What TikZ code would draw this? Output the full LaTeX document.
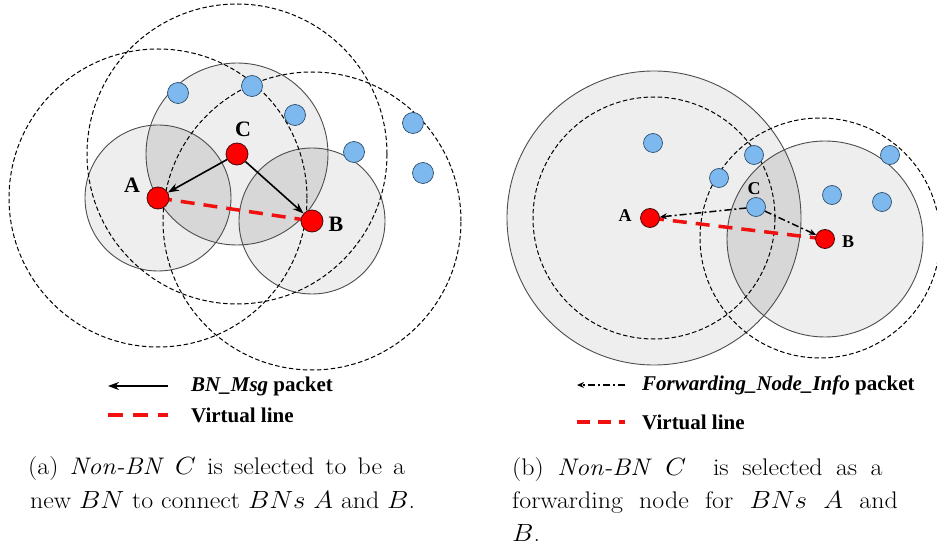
\documentclass[tikz,border=0pt]{standalone}
\usepackage{fontspec}
\usepackage{graphicx}
\newfontfamily\tnr{Liberation Serif}
\usetikzlibrary{arrows.meta}
\definecolor{nodered}{HTML}{FF0000}
\definecolor{rededge}{HTML}{4A0A0A}
\definecolor{nodeblue}{HTML}{7DB9EF}
\definecolor{blueedge}{HTML}{2F4F6F}
\definecolor{ringgray}{HTML}{4D4D4D}
\definecolor{virtred}{HTML}{F01010}
\definecolor{disklight}{HTML}{EEEEEE}
\definecolor{diskdark}{HTML}{D7D7D7}
\pgfdeclarelayer{bg}
\pgfsetlayers{bg,main}
\newcommand{\capw}[2]{\scalebox{1.08}[1]{\hbox to #1pt{#2}}}
\begin{document}
\begin{tikzpicture}[x=1pt,y=-1pt,
  bn/.style={circle, fill=nodered, draw=rededge, line width=0.8pt, minimum size=22pt, inner sep=0pt},
  bnsmall/.style={bn, minimum size=19pt},
  nbn/.style={circle, fill=nodeblue, draw=blueedge, line width=0.7pt, minimum size=21pt, inner sep=0pt},
  nbnsmall/.style={nbn, minimum size=19pt},
  diskfill/.style={fill=disklight},
  overlapfill/.style={fill=diskdark},
  diskedge/.style={draw=ringgray, line width=0.9pt},
  reachring/.style={draw=black, dash pattern=on 4.5pt off 2.5pt, line width=1pt},
  virt/.style={draw=virtred, line width=3.5pt, dash pattern=on 14pt off 9pt},
  msg/.style={draw=black, line width=1.6pt, -{Stealth[length=11pt,width=8pt]}},
  fwd/.style={draw=black, line width=1.5pt, dash pattern=on 7pt off 3pt on 2pt off 3pt, -{Stealth[length=7pt,width=6pt]}},
  biglbl/.style={font=\tnr\bfseries\fontsize{22}{24}\selectfont, inner sep=0pt},
  smalllbl/.style={font=\tnr\bfseries\fontsize{18}{20}\selectfont, inner sep=0pt},
  legend/.style={font=\tnr\bfseries\fontsize{21}{24}\selectfont, inner sep=0pt, anchor=west},
  capt/.style={font=\fontsize{24}{34}\selectfont, inner sep=0pt, anchor=base west}
]
\useasboundingbox (0,0) rectangle (937,545);

% ---------------- (a) ----------------
\node[bn] (A) at (158,198) {};
\node[bn] (B) at (312,221) {};
\node[bn] (C) at (237,154) {};
\foreach \n/\p in {u1/{(178,93)}, u2/{(252,86)}, u3/{(295,115)}, u4/{(354,152)}, u5/{(413,123)}, u6/{(423,173)}}
  \node[nbn] (\n) at \p {};
\node[biglbl] (la) at (132,185) {A};
\node[biglbl] (lb) at (336,224) {B};
\node[biglbl] (lc) at (243,129) {C};

\begin{pgfonlayer}{bg}
  \path[diskfill] (A) circle[radius=73pt];
  \path[diskfill] (C) circle[radius=91pt];
  \path[diskfill] (B) circle[radius=73pt];
  \begin{scope}
    \clip (C) circle[radius=91pt];
    \path[overlapfill] (A) circle[radius=73pt];
    \path[overlapfill] (B) circle[radius=73pt];
  \end{scope}
  \path[diskedge] (A) circle[radius=73pt];
  \path[diskedge] (C) circle[radius=91pt];
  \path[diskedge] (B) circle[radius=73pt];
  \path[reachring] (A) circle[radius=149pt];
  \path[reachring] (C) circle[radius=150pt];
  \path[reachring] (B) circle[radius=149pt];
  \draw[virt] (A.center) -- (B.center);
\end{pgfonlayer}
\draw[msg] (C) -- (A);
\draw[msg] (C) -- (B);

% legend (a)
\coordinate (la1) at (168,386);
\coordinate (la2) at (108,386);
\draw[msg, line width=1.8pt] (la1) -- (la2);
\node[legend] (ta1) at (191,386) {\itshape BN\_Msg\upshape\ packet};
\coordinate (lb1) at (108,415);
\coordinate (lb2) at (168,415);
\draw[virt, line width=4pt, dash pattern=on 15pt off 10pt] (lb1) -- (lb2);
\node[legend] (ta2) at (191,415) {Virtual line};

% ---------------- (b) ----------------
\node[bnsmall] (A2) at (650,218) {};
\node[bnsmall] (B2) at (825,239) {};
\node[nbnsmall] (C2) at (756,207) {};
\foreach \n/\p in {v1/{(653,143)}, v2/{(754,155)}, v3/{(719,178)}, v4/{(890,155)}, v5/{(832,195)}, v6/{(882,202)}}
  \node[nbnsmall] (\n) at \p {};
\node[smalllbl] (la2l) at (625,216) {A};
\node[smalllbl] (lb2l) at (848,242) {B};
\node[smalllbl] (lc2l) at (754,189) {C};
\coordinate (rA) at (654,218);
\coordinate (rB) at (820,238);

\begin{pgfonlayer}{bg}
  \path[diskfill] (rA) circle[radius=147pt];
  \path[diskfill] (B2) circle[radius=98pt];
  \begin{scope}
    \clip (rA) circle[radius=147pt];
    \path[overlapfill] (B2) circle[radius=98pt];
  \end{scope}
  \path[diskedge] (rA) circle[radius=147pt];
  \path[diskedge] (B2) circle[radius=98pt];
  \path[reachring] (rA) circle[radius=121pt];
  \path[reachring] (rB) circle[radius=120pt];
  \draw[virt] (A2.center) -- (B2.center);
\end{pgfonlayer}
\draw[fwd] (C2) -- (A2);
\draw[fwd] (C2) -- (B2);

% legend (b)
\coordinate (lc1) at (625,385);
\coordinate (lc2) at (577,385);
\draw[fwd] (lc1) -- (lc2);
\node[legend] (tb1) at (642,385) {\itshape Forwarding\_Node\_Info\upshape\ packet};
\coordinate (ld1) at (577,422);
\coordinate (ld2) at (625,422);
\draw[virt, line width=4pt, dash pattern=on 13pt off 8pt] (ld1) -- (ld2);
\node[legend] (tb2) at (642,422) {Virtual line};

% ---------------- captions ----------------
\node[capt] (ca1) at (28,474) {\capw{349}{(a) \textit{Non-BN} $C$ is selected to be a}};
\node[capt] (ca2) at (30,508) {\scalebox{1.08}[1]{new $BN$ to connect $BNs$ $A$ and $B$.}};
\node[capt] (cb1) at (512,475) {\capw{343}{(b) \textit{Non-BN} $C$ \ is selected as a}};
\node[capt] (cb2) at (512,508) {\capw{357}{forwarding node for $BNs$ $A$ and}};
\node[capt] (cb3) at (512,541) {\scalebox{1.08}[1]{$B$.}};
\end{tikzpicture}
\end{document}
